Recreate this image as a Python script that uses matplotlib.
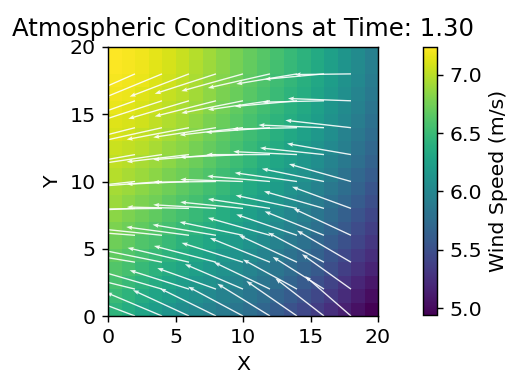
import numpy as np
import matplotlib
matplotlib.use("Agg")
import matplotlib.pyplot as plt

# wind speed on a 20x20 grid, rows from y=0 (bottom) to y=19 (top)
speed = np.array([
    [6.44, 6.36, 6.28, 6.21, 6.13, 6.06, 6.01, 5.95, 5.89, 5.84, 5.77, 5.69, 5.61, 5.52, 5.44, 5.35, 5.25, 5.14, 5.04, 4.94],
    [6.50, 6.43, 6.35, 6.28, 6.21, 6.14, 6.09, 6.02, 5.96, 5.91, 5.84, 5.76, 5.68, 5.60, 5.52, 5.43, 5.33, 5.22, 5.12, 5.02],
    [6.56, 6.49, 6.42, 6.35, 6.28, 6.21, 6.16, 6.10, 6.04, 5.98, 5.91, 5.83, 5.76, 5.67, 5.59, 5.50, 5.40, 5.29, 5.19, 5.09],
    [6.62, 6.56, 6.49, 6.42, 6.35, 6.29, 6.23, 6.17, 6.11, 6.05, 5.98, 5.90, 5.83, 5.74, 5.66, 5.58, 5.48, 5.37, 5.27, 5.17],
    [6.68, 6.62, 6.55, 6.49, 6.42, 6.36, 6.30, 6.24, 6.17, 6.12, 6.05, 5.97, 5.89, 5.81, 5.73, 5.65, 5.55, 5.44, 5.34, 5.24],
    [6.73, 6.68, 6.61, 6.56, 6.49, 6.42, 6.37, 6.30, 6.24, 6.18, 6.11, 6.04, 5.96, 5.88, 5.80, 5.71, 5.61, 5.51, 5.41, 5.30],
    [6.79, 6.73, 6.68, 6.62, 6.55, 6.49, 6.43, 6.37, 6.30, 6.24, 6.17, 6.10, 6.02, 5.94, 5.87, 5.78, 5.68, 5.57, 5.47, 5.37],
    [6.84, 6.79, 6.73, 6.68, 6.61, 6.55, 6.49, 6.43, 6.36, 6.30, 6.23, 6.16, 6.08, 6.00, 5.93, 5.84, 5.74, 5.64, 5.54, 5.43],
    [6.89, 6.84, 6.79, 6.74, 6.67, 6.61, 6.55, 6.49, 6.42, 6.36, 6.29, 6.22, 6.14, 6.06, 5.99, 5.90, 5.80, 5.70, 5.60, 5.49],
    [6.93, 6.89, 6.84, 6.79, 6.73, 6.67, 6.61, 6.54, 6.48, 6.41, 6.34, 6.27, 6.20, 6.12, 6.05, 5.96, 5.86, 5.76, 5.66, 5.55],
    [6.98, 6.94, 6.89, 6.84, 6.78, 6.73, 6.66, 6.60, 6.53, 6.47, 6.40, 6.32, 6.25, 6.17, 6.10, 6.02, 5.92, 5.81, 5.71, 5.61],
    [7.02, 6.99, 6.94, 6.89, 6.84, 6.78, 6.72, 6.65, 6.58, 6.52, 6.45, 6.37, 6.30, 6.23, 6.15, 6.07, 5.97, 5.87, 5.77, 5.66],
    [7.06, 7.03, 6.99, 6.94, 6.88, 6.83, 6.76, 6.70, 6.63, 6.56, 6.49, 6.42, 6.35, 6.27, 6.20, 6.12, 6.02, 5.92, 5.82, 5.71],
    [7.10, 7.07, 7.03, 6.98, 6.93, 6.87, 6.81, 6.74, 6.67, 6.60, 6.53, 6.46, 6.39, 6.32, 6.25, 6.17, 6.07, 5.96, 5.86, 5.75],
    [7.13, 7.10, 7.07, 7.02, 6.97, 6.92, 6.85, 6.78, 6.71, 6.64, 6.57, 6.50, 6.43, 6.36, 6.29, 6.21, 6.11, 6.01, 5.91, 5.80],
    [7.16, 7.14, 7.10, 7.06, 7.01, 6.95, 6.89, 6.82, 6.75, 6.68, 6.61, 6.54, 6.47, 6.40, 6.33, 6.24, 6.14, 6.04, 5.94, 5.83],
    [7.19, 7.17, 7.13, 7.09, 7.04, 6.99, 6.92, 6.85, 6.78, 6.71, 6.64, 6.57, 6.50, 6.43, 6.36, 6.28, 6.18, 6.08, 5.98, 5.87],
    [7.21, 7.19, 7.16, 7.12, 7.07, 7.02, 6.95, 6.88, 6.81, 6.74, 6.67, 6.60, 6.53, 6.46, 6.39, 6.31, 6.21, 6.11, 6.01, 5.90],
    [7.23, 7.21, 7.18, 7.14, 7.09, 7.04, 6.97, 6.90, 6.83, 6.76, 6.69, 6.62, 6.55, 6.48, 6.41, 6.33, 6.23, 6.13, 6.03, 5.92],
    [7.24, 7.22, 7.19, 7.15, 7.10, 7.05, 6.98, 6.91, 6.84, 6.77, 6.70, 6.63, 6.56, 6.49, 6.42, 6.34, 6.24, 6.14, 6.04, 5.93],
])

# arrow positions and wind components (data units), rows y = 0, 2, ..., 18
xq = np.arange(0, 20, 2)
yq = np.arange(0, 20, 2)
u = np.array([
    [-4.10, -4.12, -4.14, -4.15, -4.15, -4.07, -3.90, -3.75, -3.60, -3.40],
    [-4.40, -4.40, -4.40, -4.40, -4.35, -4.30, -4.15, -4.00, -3.80, -3.63],
    [-4.50, -4.50, -4.52, -4.55, -4.60, -4.55, -4.45, -4.30, -4.15, -4.00],
    [-4.55, -4.55, -4.60, -4.65, -4.70, -4.70, -4.60, -4.50, -4.40, -4.25],
    [-4.55, -4.55, -4.60, -4.60, -4.65, -4.65, -4.60, -4.55, -4.45, -4.37],
    [-4.60, -4.60, -4.60, -4.62, -4.65, -4.65, -4.65, -4.62, -4.60, -4.60],
    [-4.60, -4.60, -4.60, -4.62, -4.65, -4.68, -4.70, -4.72, -4.74, -4.74],
    [-4.60, -4.60, -4.60, -4.62, -4.65, -4.70, -4.75, -4.80, -4.85, -4.86],
    [-4.45, -4.47, -4.50, -4.50, -4.54, -4.57, -4.60, -4.60, -4.55, -4.67],
    [-4.20, -4.30, -4.35, -4.40, -4.54, -4.57, -4.60, -4.50, -4.40, -4.17],
])
v = np.array([
    [1.40, 1.57, 1.75, 1.92, 2.05, 2.18, 2.40, 2.60, 2.80, 2.97],
    [0.90, 1.09, 1.28, 1.40, 1.56, 1.85, 2.00, 2.20, 2.40, 2.60],
    [0.55, 0.75, 0.92, 1.07, 1.21, 1.44, 1.80, 2.00, 2.20, 2.35],
    [0.20, 0.35, 0.48, 0.62, 0.79, 0.99, 1.30, 1.55, 1.78, 1.98],
    [-0.35, -0.20, -0.05, 0.10, 0.27, 0.47, 0.70, 0.97, 1.27, 1.61],
    [-0.65, -0.50, -0.35, -0.20, -0.05, 0.15, 0.40, 0.65, 0.95, 1.30],
    [-0.95, -0.82, -0.68, -0.54, -0.38, -0.20, 0.00, 0.22, 0.50, 0.82],
    [-1.30, -1.17, -1.03, -0.88, -0.72, -0.55, -0.35, -0.10, 0.20, 0.55],
    [-1.75, -1.60, -1.47, -1.34, -1.16, -0.92, -0.67, -0.42, -0.10, 0.17],
    [-2.00, -1.90, -1.80, -1.69, -1.48, -1.28, -1.05, -0.75, -0.40, -0.05],
])
time_value = 1.30

plt.rcParams["font.size"] = 11.5

fig = plt.figure(figsize=(507 / 128, 376 / 128), dpi=128)
ax = fig.add_axes([108 / 507, 60 / 376, 270 / 507, 269 / 376])
cax = fig.add_axes([423 / 507, 61 / 376, 14 / 507, 268 / 376])

edges = np.arange(21)
mesh = ax.pcolormesh(edges, edges, speed, cmap="viridis", shading="flat")
X, Y = np.meshgrid(xq, yq)
ax.quiver(X, Y, u, v, color="white", alpha=0.9, angles="xy", scale_units="xy", scale=1,
          width=0.005, headwidth=3.2, headlength=4.5, headaxislength=4)

ax.set_xlim(0, 20)
ax.set_ylim(0, 20)
ax.set_xticks([0, 5, 10, 15, 20])
ax.set_yticks([0, 5, 10, 15, 20])
ax.set_xlabel("X")
ax.set_ylabel("Y")
ax.set_title(f"Atmospheric Conditions at Time: {time_value:.2f}", fontsize=13.7)

cb = fig.colorbar(mesh, cax=cax)
cb.set_label("Wind Speed (m/s)")

fig.savefig("out.png", dpi=128)
